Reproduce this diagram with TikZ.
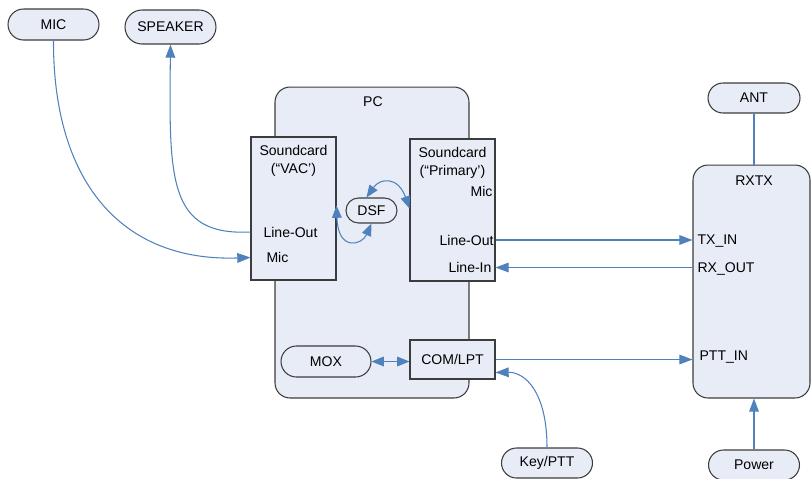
\documentclass[tikz,border=0pt]{standalone}
\usepackage{fontspec}
\setmainfont{Liberation Sans}
\usetikzlibrary{arrows.meta,shapes.misc}
\definecolor{boxfill}{RGB}{231,236,246}
\definecolor{boxline}{RGB}{60,60,60}
\definecolor{wire}{RGB}{79,129,189}

\begin{document}
\begin{tikzpicture}[x=0.02cm, y=-0.02cm, line width=0.6pt,
	every node/.style={font=\fontsize{8pt}{10pt}\selectfont, inner sep=0pt},
	pill/.style={rounded rectangle, draw=boxline, fill=boxfill, minimum width=1.82cm, minimum height=0.62cm},
	card/.style={rectangle, draw=boxline, fill=boxfill},
	wirelink/.style={draw=wire, line width=0.6pt},
	sig/.style={wirelink, -{Triangle[length=7.5pt,width=5.5pt]}},
	bisig/.style={wirelink, {Triangle[length=7pt,width=5.5pt]}-{Triangle[length=7pt,width=5.5pt]}}]
	\useasboundingbox (0,0) rectangle (811,478);
	% Define outer blocks
	\node[card, rounded corners=0.3cm, minimum width=3.88cm, minimum height=6.22cm] at (372,242.5) (pc) {};
	\node at (373,102) (pctitle) {PC};
	\node[card, rounded corners=0.3cm, minimum width=2.34cm, minimum height=4.66cm] at (751.5,281.5) (rxtx) {};
	\node at (754,181) (rxtxtitle) {RXTX};
	\node[anchor=west] at (697,241) (txin) {TX\_IN};
	\node[anchor=west] at (697,269) (rxout) {RX\_OUT};
	\node[anchor=west] at (699,357) (pttin) {PTT\_IN};
	
	% Define sound cards
	\node[card, minimum width=1.7cm, minimum height=2.86cm] at (293.5,208.5) (vac) {};
	\node[align=center] at (293.5,161) (vactitle) {Soundcard\\(“VAC’)};
	\node[anchor=west] at (263,232) (vacout) {Line-Out};
	\node[anchor=west] at (266,257.5) (vacmic) {Mic};
	\node[card, minimum width=1.7cm, minimum height=2.84cm] at (452.5,210) (prim) {};
	\node[align=center] at (452.5,163) (primtitle) {Soundcard\\(“Primary’)};
	\node[anchor=east] at (493,191.5) (primmic) {Mic};
	\node[anchor=east] at (494,240) (primout) {Line-Out};
	\node[anchor=east] at (492,267.5) (primin) {Line-In};
	\node[pill, minimum width=1.02cm, minimum height=0.5cm] at (371.5,210.5) (dsf) {DSF};
	
	% Define ports and outside parts
	\node[card, minimum width=1.7cm, minimum height=0.78cm] at (452.5,359.5) (com) {COM/LPT};
	\node[pill, minimum width=1.8cm] at (326,361.5) (mox) {MOX};
	\node[pill] at (53.5,24.5) (mic) {MIC};
	\node[pill, minimum height=0.68cm] at (170.5,27) (speaker) {SPEAKER};
	\node[pill, minimum height=0.6cm] at (547,463) (key) {Key/PTT};
	\node[pill, minimum width=1.84cm, minimum height=0.6cm] at (754,98) (ant) {ANT};
	\node[pill, minimum height=0.6cm] at (754,465) (power) {Power};
	
	% Draw signal paths
	\draw[sig] (mic.south) .. controls (53,180) and (120,262) .. (vac.west |- vacmic);
	\draw[sig] (vac.west |- vacout) .. controls (168,236) and (169,180) .. (speaker.south);
	\draw[bisig] ([xshift=-0.1cm]dsf.north) .. controls (380,178) and (398,176) .. ([yshift=0.04cm]prim.west |- dsf);
	\draw[bisig] ([yshift=0.1cm]vac.east |- dsf) .. controls (338,252) and (362,245) .. (dsf.south);
	\draw[sig] (prim.east |- primout) -- (rxtx.west |- primout);
	\draw[sig] (rxtx.west |- primin) -- (prim.east |- primin);
	\draw[sig] (com.east) -- (rxtx.west |- com.east);
	\draw[bisig] (mox.east) -- (com.west |- mox.east);
	\draw[sig] (key.north) .. controls (547,392) and (525,372) .. ([yshift=-0.26cm]com.east);
	\draw[wirelink] (ant.south) -- (rxtx.north -| ant.south);
	\draw[sig] (power.north) -- (rxtx.south -| power.north);
\end{tikzpicture}
\end{document}
